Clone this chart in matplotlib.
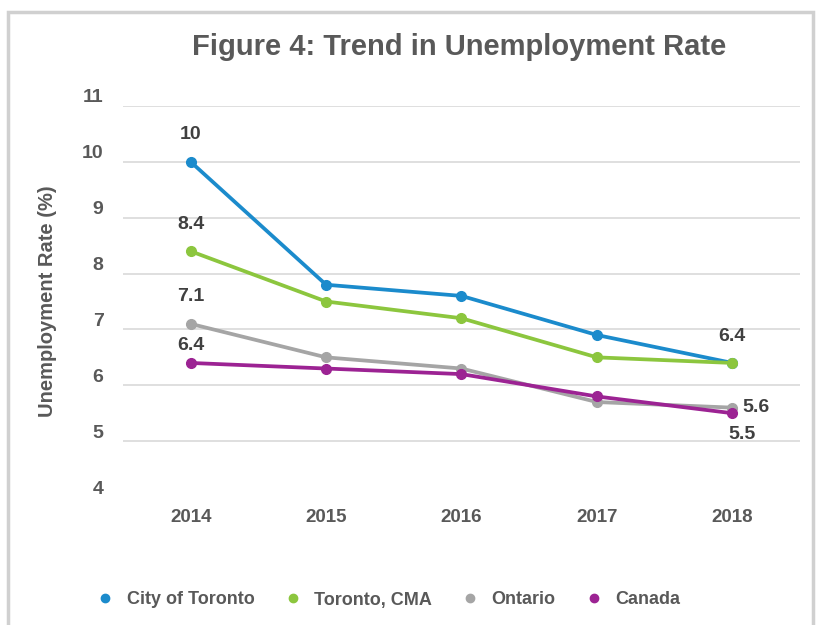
import matplotlib
matplotlib.use('Agg')
import matplotlib.pyplot as plt
import matplotlib.transforms as mtransforms
from matplotlib.patches import Rectangle

# Data
years = ['2014', '2015', '2016', '2017', '2018']
city_of_toronto = [10, 7.8, 7.6, 6.9, 6.4]
toronto_cma = [8.4, 7.5, 7.2, 6.5, 6.4]
ontario = [7.1, 6.5, 6.3, 5.7, 5.6]
canada = [6.4, 6.3, 6.2, 5.8, 5.5]
y_ticks = [4, 5, 6, 7, 8, 9, 10, 11]

plt.rcParams['font.family'] = ['Liberation Sans', 'DejaVu Sans']
plt.rcParams['font.weight'] = 'bold'
plt.rcParams['axes.labelweight'] = 'bold'

text_col = '#595959'
label_col = '#404040'

series = [
    ('City of Toronto', city_of_toronto, '#1b8bcc'),
    ('Toronto, CMA', toronto_cma, '#8cc63e'),
    ('Ontario', ontario, '#a5a5a5'),
    ('Canada', canada, '#9c2393'),
]

fig = plt.figure(figsize=(8.2, 6.25), dpi=100)
ax = fig.add_axes([123 / 820, 1 - 497 / 625, 677 / 820, 391 / 625])

# outer light grey frame
fig.patches.append(Rectangle((8 / 820, -0.05), 805 / 820, 1.05 - 12 / 625,
                             transform=fig.transFigure, fill=False,
                             edgecolor='#d0d0d0', linewidth=2.5))

x = list(range(len(years)))
for name, vals, col in series:
    ax.plot(x, vals, color=col, lw=2.7, marker='o', ms=7, label=name,
            solid_capstyle='round')

ax.set_xlim(-0.5, 4.5)
ax.set_ylim(4, 11)
ax.set_yticks(y_ticks)
ax.set_yticklabels([str(t) for t in y_ticks], fontweight='bold')
ax.set_xticks(x)
ax.set_xticklabels(years, fontweight='bold')
ax.tick_params(length=0, labelcolor=text_col)
ax.tick_params(axis='y', pad=14, labelsize=14)
ax.tick_params(axis='x', pad=9, labelsize=13.5)
# tick labels sit a little above their gridlines in the reference
off = mtransforms.ScaledTranslation(0, 10 / 100, fig.dpi_scale_trans)
for lab in ax.get_yticklabels():
    lab.set_transform(lab.get_transform() + off)

for s in ax.spines.values():
    s.set_visible(False)
for t in y_ticks[1:]:
    ax.axhline(t, color='#d9d9d9', lw=1.2, zorder=0)

ax.set_ylabel('Unemployment Rate (%)', fontsize=14.5, color=text_col,
              fontweight='bold', labelpad=18)
fig.text(459 / 820, 1 - 47 / 625, 'Figure 4: Trend in Unemployment Rate',
         ha='center', va='center', fontsize=21, color=text_col, fontweight='bold')

# data labels
lab_kw = dict(fontsize=14, color=label_col, ha='center', va='center', fontweight='bold')
ax.annotate(f'{city_of_toronto[0]:g}', (0, city_of_toronto[0]), xytext=(0, 27), textcoords='offset pixels', **lab_kw)
ax.annotate(f'{toronto_cma[0]:g}', (0, toronto_cma[0]), xytext=(0, 27), textcoords='offset pixels', **lab_kw)
ax.annotate(f'{ontario[0]:g}', (0, ontario[0]), xytext=(0, 27), textcoords='offset pixels', **lab_kw)
ax.annotate(f'{canada[0]:g}', (0, canada[0]), xytext=(0, 17), textcoords='offset pixels', **lab_kw)
ax.annotate(f'{toronto_cma[4]:g}', (4, toronto_cma[4]), xytext=(0, 26), textcoords='offset pixels', **lab_kw)
ax.annotate(f'{ontario[4]:g}', (4, ontario[4]), xytext=(24, 0), textcoords='offset pixels', **lab_kw)
ax.annotate(f'{canada[4]:g}', (4, canada[4]), xytext=(10, -21), textcoords='offset pixels', **lab_kw)

leg = ax.legend(loc='center', bbox_to_anchor=((390 / 820 - 123 / 820) / (677 / 820), (497 - 600) / 391),
                ncol=4, frameon=False, fontsize=13, handlelength=0.6,
                handletextpad=0.9, columnspacing=1.8)
for h in leg.legend_handles:
    h.set_linestyle('none')
    h.set_markersize(6)
for t in leg.get_texts():
    t.set_color(text_col)

fig.savefig('out.png', dpi=100)
